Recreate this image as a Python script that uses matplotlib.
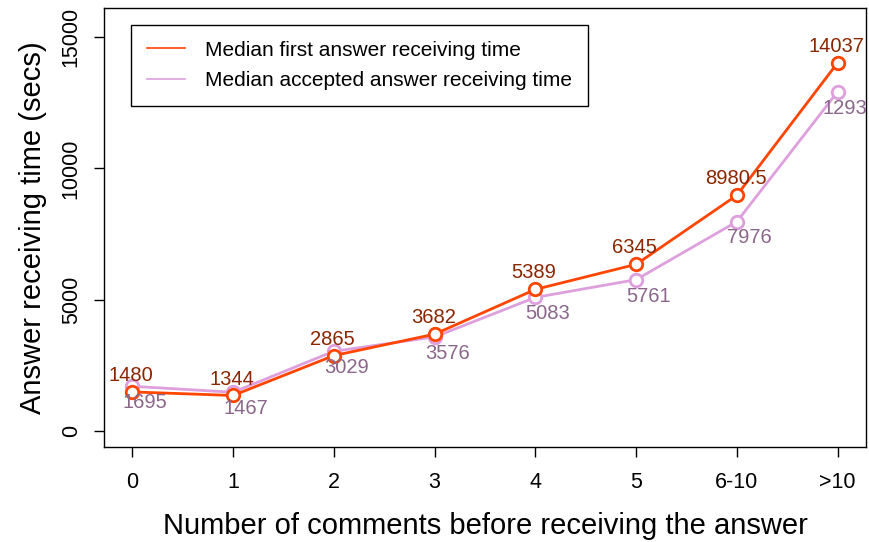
import matplotlib
matplotlib.use('Agg')
import matplotlib.pyplot as plt

# comments before answer -> median times (secs)
categories = ['0', '1', '2', '3', '4', '5', '6-10', '>10']
first_answer = [1480, 1344, 2865, 3682, 5389, 6345, 8980.5, 14037]
accepted_answer = [1695, 1467, 3029, 3576, 5083, 5761, 7976, 12930]
first_labels = ['1480', '1344', '2865', '3682', '5389', '6345', '8980.5', '14037']
accepted_labels = ['1695', '1467', '3029', '3576', '5083', '5761', '7976', '12930']

plt.rcParams['font.family'] = ['Liberation Sans', 'DejaVu Sans']

fig = plt.figure(figsize=(8.69, 5.42), dpi=100)
ax = fig.add_axes([0.1197, 0.1753, 0.8768, 0.81])

x = list(range(len(categories)))
ax.plot(x, first_answer, color='#FF4500', lw=2, marker='o', ms=9, mew=2,
        mfc='white', label='Median first answer receiving time', zorder=3)
ax.plot(x, accepted_answer, color='#DDA0DD', lw=2, marker='o', ms=9, mew=2,
        mfc='white', label='Median accepted answer receiving time', zorder=2)

for i in x:
    t1 = ax.annotate(first_labels[i], (i, first_answer[i]), xytext=(-1, 5),
                     textcoords='offset points', ha='center', va='bottom',
                     color='#8B2500', fontsize=14.5)
    t2 = ax.annotate(accepted_labels[i], (i, accepted_answer[i]), xytext=(9, -5),
                     textcoords='offset points', ha='center', va='top',
                     color='#8B668B', fontsize=14.5)
    for t in (t1, t2):
        t.set_clip_on(True)
        t.set_clip_path(ax.patch)

ax.set_xlim(-0.28, 7.28)
ax.set_ylim(-620, 16120)
ax.set_xticks(x)
ax.set_xticklabels(categories)
ax.set_yticks([0, 5000, 10000, 15000])
ax.set_yticklabels(['0', '5000', '10000', '15000'], rotation=90, va='center')
ax.tick_params(axis='both', direction='out', length=7, width=1, labelsize=15.5)
ax.tick_params(axis='x', pad=11)
ax.tick_params(axis='y', pad=9)
for s in ax.spines.values():
    s.set_linewidth(1)

ax.set_xlabel('Number of comments before receiving the answer', fontsize=21, labelpad=14)
ax.set_ylabel('Answer receiving time (secs)', fontsize=21, labelpad=10)

leg = ax.legend(loc='upper left', bbox_to_anchor=(0.036, 0.961), borderaxespad=0,
                fontsize=15, frameon=True, fancybox=False, edgecolor='black',
                framealpha=1, handlelength=1.8, borderpad=0.75, handletextpad=1.0,
                labelspacing=0.55)
leg.get_frame().set_linewidth(1)
for h in leg.legend_handles:
    h.set_marker('')
    h.set_linewidth(1.2)

fig.savefig('out.png', dpi=100)
